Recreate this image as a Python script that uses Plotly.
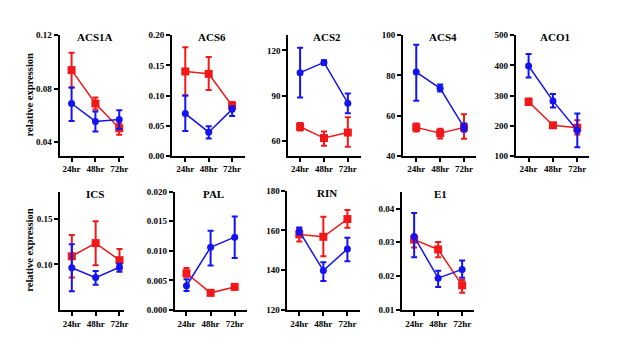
import plotly.graph_objects as go

OFF = 8  # default page body margin
W, H = 636 - 2 * OFF, 356 - 2 * OFF

time_labels = ["24hr", "48hr", "72hr"]
genes = ["ACS1A", "ACS6", "ACS2", "ACS4", "ACO1", "ICS", "PAL", "RIN", "E1"]

# red series (squares): mean, upper error, lower error
red_mean = {
    "ACS1A": [0.094, 0.069, 0.0505],
    "ACS6": [0.140, 0.136, 0.083],
    "ACS2": [69.2, 61.7, 65.4],
    "ACS4": [54.1, 51.2, 54.1],
    "ACO1": [279, 201, 193],
    "ICS": [0.109, 0.1234, 0.1047],
    "PAL": [0.0062, 0.0029, 0.0039],
    "RIN": [158.0, 156.8, 165.7],
    "E1": [0.0308, 0.0279, 0.0173],
}
red_up = {
    "ACS1A": [0.013, 0.0045, 0.0035],
    "ACS6": [0.040, 0.028, 0.006],
    "ACS2": [2.5, 4.3, 10.2],
    "ACS4": [2.0, 2.2, 6.5],
    "ACO1": [11, 4, 25],
    "ICS": [0.0234, 0.0241, 0.0123],
    "PAL": [0.0009, 0.0004, 0.0002],
    "RIN": [2.9, 10.1, 4.6],
    "E1": [0.0012, 0.0022, 0.0016],
}
red_dn = {
    "ACS1A": [0.013, 0.0045, 0.0049],
    "ACS6": [0.040, 0.027, 0.005],
    "ACS2": [2.5, 5.1, 9.5],
    "ACS4": [2.0, 2.6, 5.7],
    "ACO1": [11, 4, 23],
    "ICS": [0.0234, 0.0244, 0.0101],
    "PAL": [0.0006, 0.0004, 0.0002],
    "RIN": [3.6, 9.8, 4.3],
    "E1": [0.0023, 0.0023, 0.0022],
}
# blue series (circles)
blue_mean = {
    "ACS1A": [0.069, 0.0556, 0.057],
    "ACS6": [0.070, 0.039, 0.077],
    "ACS2": [105.2, 112.0, 84.9],
    "ACS4": [81.7, 73.6, 54.1],
    "ACO1": [398, 282, 184],
    "ICS": [0.0964, 0.0856, 0.097],
    "PAL": [0.0041, 0.0106, 0.0123],
    "RIN": [159.6, 139.8, 150.7],
    "E1": [0.0317, 0.0194, 0.0220],
}
blue_up = {
    "ACS1A": [0.012, 0.0074, 0.007],
    "ACS6": [0.030, 0.010, 0.005],
    "ACS2": [16.5, 1.5, 6.4],
    "ACS4": [13.6, 1.9, 2.0],
    "ACO1": [40, 23, 56],
    "ICS": [0.0259, 0.0072, 0.0037],
    "PAL": [0.0011, 0.0028, 0.0035],
    "RIN": [1.9, 4.2, 5.6],
    "E1": [0.0070, 0.0022, 0.0026],
}
blue_dn = {
    "ACS1A": [0.013, 0.0076, 0.007],
    "ACS6": [0.029, 0.0105, 0.011],
    "ACS2": [16.5, 1.5, 6.7],
    "ACS4": [14.3, 1.6, 2.1],
    "ACO1": [38, 22, 56],
    "ICS": [0.0259, 0.0079, 0.005],
    "PAL": [0.0009, 0.0031, 0.0035],
    "RIN": [1.6, 5.2, 6.2],
    "E1": [0.0061, 0.0026, 0.0025],
}

y_ranges = {
    "ACS1A": [0.03, 0.12], "ACS6": [0, 0.2], "ACS2": [50, 130], "ACS4": [40, 100],
    "ACO1": [100, 500], "ICS": [0.05, 0.18], "PAL": [0, 0.02], "RIN": [120, 180],
    "E1": [0.01, 0.045],
}
y_ticks = {
    "ACS1A": [0.04, 0.08, 0.12], "ACS6": [0, 0.05, 0.10, 0.15, 0.20],
    "ACS2": [60, 90, 120], "ACS4": [40, 60, 80, 100], "ACO1": [100, 200, 300, 400, 500],
    "ICS": [0.10, 0.15], "PAL": [0, 0.005, 0.010, 0.015, 0.020],
    "RIN": [120, 140, 160, 180], "E1": [0.01, 0.02, 0.03, 0.04],
}
y_fmt = {
    "ACS1A": ".2f", "ACS6": ".2f", "ACS2": "d", "ACS4": "d", "ACO1": "d",
    "ICS": ".2f", "PAL": ".3f", "RIN": "d", "E1": ".2f",
}

# layout: pixel boxes in window coords (x0, x1, y_top, y_bottom) and x ranges
boxes = {
    "ACS1A": (60, 125, 31, 155, -0.5, 2.21),
    "ACS6": (173, 247, 31, 155, -0.57, 2.57),
    "ACS2": (290, 363, 31, 155, -0.5, 2.54),
    "ACS4": (405.7, 479, 31, 155, -0.55, 2.5),
    "ACO1": (519, 593, 31, 155, -0.53, 2.49),
    "ICS": (60.7, 125, 192, 314, -0.48, 2.2),
    "PAL": (176, 248.3, 192, 314, -0.48, 2.5),
    "RIN": (289.3, 362.7, 191, 314, -0.49, 2.54),
    "E1": (404.7, 476.7, 192, 314, -0.5, 2.48),
}


def px(x):
    return (x - OFF) / W


def py(y):
    return 1 - (y - OFF) / H


RED = "#f01818"
BLUE = "#1414f0"
FONT = "Liberation Serif"

fig = go.Figure()
layout = {}
annotations = []
xs = [0, 1, 2]

for i, g in enumerate(genes):
    n = "" if i == 0 else str(i + 1)
    x0, x1, yt, yb, r0, r1 = boxes[g]
    xa, ya = "x" + n, "y" + n
    for mean, up, dn, col, sym, size in [
        (red_mean, red_up, red_dn, RED, "square", 8),
        (blue_mean, blue_up, blue_dn, BLUE, "circle", 7),
    ]:
        fig.add_trace(go.Scatter(
            x=xs, y=mean[g], xaxis=xa, yaxis=ya, mode="lines+markers",
            line=dict(color=col, width=1.5),
            marker=dict(symbol=sym, size=size, color=col),
            error_y=dict(type="data", array=up[g], arrayminus=dn[g],
                         color=col, thickness=2, width=3, symmetric=False),
            showlegend=False, cliponaxis=False,
        ))
    axis_common = dict(showline=True, linecolor="black", linewidth=2,
                       ticks="outside", tickcolor="black", tickwidth=1.5, ticklen=4,
                       showgrid=False, zeroline=False,
                       tickfont=dict(family=FONT, size=9, color="black", weight="bold"))
    layout["xaxis" + n] = dict(
        domain=[px(x0), px(x1)], range=[r0, r1], anchor=ya,
        tickvals=xs, ticktext=time_labels, **axis_common)
    layout["yaxis" + n] = dict(
        domain=[py(yb), py(yt)], range=y_ranges[g], anchor=xa,
        tickvals=y_ticks[g], tickformat=y_fmt[g], **axis_common)
    annotations.append(dict(
        text=g, x=px((x0 + x1) / 2 + 3), y=py(yt + 2),
        xref="paper", yref="paper", showarrow=False,
        xanchor="center", yanchor="middle",
        font=dict(family=FONT, size=11, color="black", weight="bold")))

for yc in [92, 252]:
    annotations.append(dict(
        text="relative expression", x=px(30), y=py(yc), xref="paper", yref="paper",
        showarrow=False, textangle=-90, xanchor="center", yanchor="middle",
        font=dict(family=FONT, size=10.5, color="black", weight="bold")))

fig.update_layout(
    width=W, height=H, margin=dict(l=0, r=0, t=0, b=0),
    paper_bgcolor="white", plot_bgcolor="white",
    annotations=annotations, **layout)

fig.write_html("out.html")
